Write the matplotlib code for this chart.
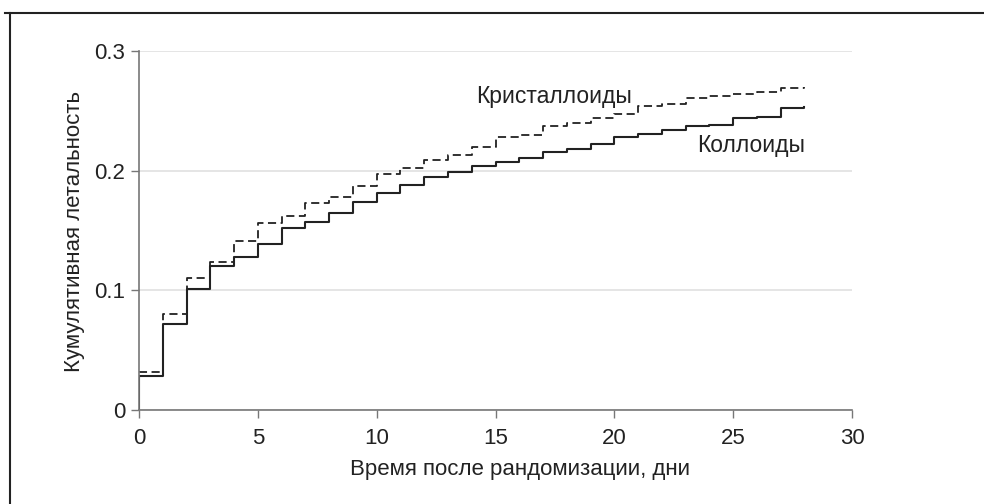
import numpy as np
import matplotlib.pyplot as plt
from matplotlib.lines import Line2D

plt.rcParams['font.family'] = ['Liberation Sans', 'DejaVu Sans']

# cumulative mortality by day (step values for day d .. d+1)
days = list(range(0, 29))
colloids = [0.028, 0.072, 0.101, 0.120, 0.128, 0.139, 0.152, 0.157, 0.165, 0.174,
            0.181, 0.188, 0.195, 0.199, 0.204, 0.207, 0.211, 0.216, 0.218, 0.222,
            0.228, 0.231, 0.234, 0.237, 0.238, 0.244, 0.245, 0.252, 0.253]
crystalloids = [0.032, 0.080, 0.110, 0.124, 0.141, 0.156, 0.162, 0.173, 0.178, 0.187,
                0.197, 0.202, 0.209, 0.213, 0.220, 0.228, 0.230, 0.237, 0.240, 0.244,
                0.247, 0.254, 0.256, 0.261, 0.262, 0.264, 0.266, 0.269, 0.270]

x_ticks = [0, 5, 10, 15, 20, 25, 30]
y_ticks = [0, 0.1, 0.2, 0.3]
y_tick_labels = ['0', '0.1', '0.2', '0.3']

fig = plt.figure(figsize=(9.84, 5.04), dpi=100)
ax = fig.add_axes([139/984, 1-410/504, (852-139)/984, (410-51)/504])

# start both curves at zero
xs = [0] + days
ax.step(xs, [0] + colloids, where='post', color='#222222', lw=1.5)
ax.step(xs, [0] + crystalloids, where='post', color='#222222', lw=1.3,
        linestyle=(0, (4.5, 2.5)))

ax.set_xlim(0, 30)
ax.set_ylim(0, 0.3)
ax.set_xticks(x_ticks)
ax.set_yticks(y_ticks)
ax.set_yticklabels(y_tick_labels)
ax.grid(axis='y', color='#e0e0e0', lw=1.2)
ax.set_axisbelow(True)

for s in ['top', 'right']:
    ax.spines[s].set_visible(False)
for s in ['left', 'bottom']:
    ax.spines[s].set_color('#777777')
    ax.spines[s].set_linewidth(1.2)
ax.tick_params(colors='#777777', labelcolor='#222222', labelsize=16, length=6, width=1)
ax.tick_params(axis='x', pad=7)
ax.tick_params(axis='y', pad=4)

ax.set_xlabel('Время после рандомизации, дни', fontsize=16, color='#222222')
ax.xaxis.set_label_coords((520-139)/713, -(470-410)/359, transform=ax.transAxes)
ax.xaxis.label.set_va('center')
ax.set_ylabel('Кумулятивная летальность', fontsize=16, color='#222222')
ax.yaxis.set_label_coords(-(139-75)/713, (410-232)/359, transform=ax.transAxes)
ax.yaxis.label.set_va('center')

ax.text(14.2, 0.262, 'Кристаллоиды', fontsize=16.5, color='#222222', va='center')
ax.text(23.5, 0.221, 'Коллоиды', fontsize=16.5, color='#222222', va='center')

# frame lines (top and left)
fig.add_artist(Line2D([5/984, 1], [1-13/504, 1-13/504], transform=fig.transFigure,
                      color='#222222', lw=1.5))
fig.add_artist(Line2D([10/984, 10/984], [0, 1-13/504], transform=fig.transFigure,
                      color='#222222', lw=1.5))

fig.savefig('out.png', dpi=100)
